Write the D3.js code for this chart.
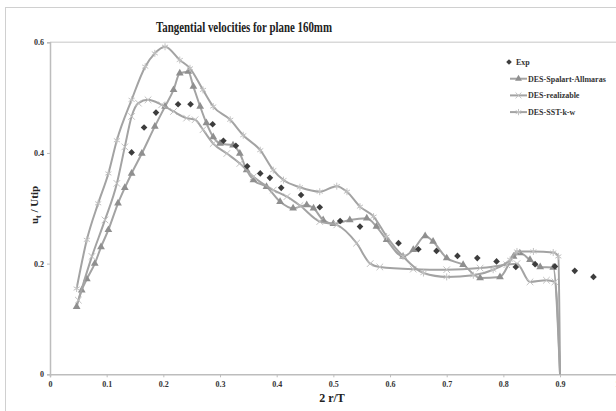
<!DOCTYPE html>
<html>
<head>
<meta charset="utf-8">
<script src="https://cdn.jsdelivr.net/npm/d3@7"></script>
<style>
  body { margin: 0; background: #fff; }
  text { font-family: "Liberation Serif", "Times New Roman", serif; font-weight: bold; }
</style>
</head>
<body>
<div id="chart"></div>
<script>
// values
var xTicks = [0, 0.1, 0.2, 0.3, 0.4, 0.5, 0.6, 0.7, 0.8, 0.9, 1];
var yTicks = [0, 0.2, 0.4, 0.6];

var expX = [0.144, 0.166, 0.187, 0.226, 0.248, 0.287, 0.306, 0.328, 0.348, 0.371, 0.388, 0.408, 0.443, 0.476, 0.512, 0.547, 0.615, 0.65, 0.682, 0.719, 0.754, 0.788, 0.822, 0.856, 0.891, 0.926, 0.959];
var expY = [0.401, 0.446, 0.473, 0.488, 0.488, 0.452, 0.422, 0.413, 0.376, 0.363, 0.355, 0.337, 0.324, 0.302, 0.277, 0.267, 0.237, 0.226, 0.223, 0.214, 0.21, 0.204, 0.194, 0.199, 0.195, 0.187, 0.176];

var saX = [0.047, 0.056, 0.065, 0.079, 0.09, 0.103, 0.12, 0.132, 0.144, 0.162, 0.185, 0.203, 0.218, 0.229, 0.244, 0.253, 0.265, 0.276, 0.288, 0.3, 0.323, 0.335, 0.347, 0.359, 0.382, 0.406, 0.429, 0.453, 0.465, 0.482, 0.5, 0.529, 0.559, 0.576, 0.594, 0.623, 0.641, 0.662, 0.676, 0.7, 0.729, 0.759, 0.794, 0.818, 0.829, 0.847, 0.865, 0.888, 0.9];
var saY = [0.122, 0.152, 0.172, 0.2, 0.23, 0.261, 0.309, 0.337, 0.363, 0.399, 0.448, 0.484, 0.514, 0.544, 0.547, 0.52, 0.484, 0.454, 0.429, 0.417, 0.414, 0.399, 0.369, 0.351, 0.339, 0.312, 0.3, 0.306, 0.3, 0.279, 0.272, 0.279, 0.282, 0.267, 0.243, 0.213, 0.225, 0.25, 0.24, 0.21, 0.198, 0.174, 0.176, 0.213, 0.219, 0.207, 0.194, 0.193, 0];

var realX = [0.05, 0.074, 0.097, 0.118, 0.132, 0.144, 0.156, 0.173, 0.197, 0.218, 0.241, 0.256, 0.27, 0.288, 0.312, 0.335, 0.359, 0.394, 0.418, 0.441, 0.476, 0.506, 0.541, 0.565, 0.582, 0.641, 0.7, 0.759, 0.806, 0.824, 0.847, 0.876, 0.891, 0.9];
var realY = [0.134, 0.213, 0.279, 0.345, 0.411, 0.466, 0.49, 0.496, 0.487, 0.475, 0.463, 0.46, 0.442, 0.417, 0.399, 0.381, 0.357, 0.333, 0.321, 0.305, 0.276, 0.27, 0.237, 0.2, 0.194, 0.19, 0.189, 0.192, 0.198, 0.2, 0.167, 0.17, 0.167, 0];

var sstX = [0.047, 0.065, 0.085, 0.103, 0.118, 0.144, 0.168, 0.185, 0.203, 0.229, 0.247, 0.27, 0.288, 0.318, 0.341, 0.371, 0.394, 0.412, 0.441, 0.476, 0.506, 0.524, 0.547, 0.571, 0.594, 0.623, 0.659, 0.7, 0.747, 0.782, 0.812, 0.824, 0.853, 0.888, 0.897, 0.9];
var sstY = [0.155, 0.243, 0.309, 0.363, 0.423, 0.496, 0.556, 0.58, 0.592, 0.568, 0.553, 0.514, 0.484, 0.46, 0.432, 0.405, 0.369, 0.351, 0.338, 0.33, 0.34, 0.33, 0.303, 0.285, 0.249, 0.213, 0.183, 0.176, 0.179, 0.189, 0.207, 0.222, 0.222, 0.22, 0.213, 0];

var width = 616, height = 411;

var svg = d3.select("#chart").append("svg")
    .attr("width", width)
    .attr("height", height);

// outer chart frame
svg.append("rect")
    .attr("x", 5.5).attr("y", 7.5)
    .attr("width", 640).attr("height", 420)
    .style("fill", "none")
    .style("stroke", "#d0d0d0");

var x = d3.scaleLinear().domain([0, 1]).range([50, 616.7]);
var y = d3.scaleLinear().domain([0, 0.6]).range([374.3, 42.3]);

// plot area top border
svg.append("line")
    .attr("x1", x(0)).attr("x2", width)
    .attr("y1", y(0.6)).attr("y2", y(0.6))
    .style("stroke", "#d9d9d9").style("stroke-width", 1.5);

var xAxis = svg.append("g")
    .attr("transform", "translate(0," + y(0) + ")")
    .call(d3.axisBottom(x).tickValues(xTicks).tickSize(3).tickFormat(d3.format("")));
var yAxis = svg.append("g")
    .attr("transform", "translate(" + x(0) + ",0)")
    .call(d3.axisLeft(y).tickValues(yTicks).tickSize(3).tickFormat(d3.format("")));

[xAxis, yAxis].forEach(function (g) {
    g.select(".domain").style("stroke", "#bdbdbd").style("stroke-width", 1.5);
    g.selectAll(".tick line").style("stroke", "#bdbdbd");
    g.selectAll(".tick text")
        .style("font-family", "'Liberation Serif', serif")
        .style("font-weight", "bold")
        .style("font-size", "8px")
        .style("fill", "#333");
});
xAxis.selectAll(".tick text").attr("dy", "0.9em");

// title and axis titles
svg.append("text")
    .attr("x", 244).attr("y", 32)
    .attr("text-anchor", "middle")
    .attr("textLength", 176)
    .attr("lengthAdjust", "spacingAndGlyphs")
    .style("font-size", "14px")
    .style("fill", "#222")
    .text("Tangential velocities for plane 160mm");

svg.append("text")
    .attr("x", 332).attr("y", 402)
    .attr("text-anchor", "middle")
    .style("font-size", "12px")
    .style("fill", "#222")
    .text("2 r/T");

var yl = svg.append("text")
    .attr("transform", "translate(38,205) rotate(-90)")
    .attr("text-anchor", "middle")
    .style("font-size", "11px")
    .style("fill", "#222");
yl.append("tspan").text("u");
yl.append("tspan").attr("dy", 3).style("font-size", "8px").text("t");
yl.append("tspan").attr("dy", -3).text(" / Utip");

function pts(xs, ys) {
    return xs.map(function (d, i) { return [d, ys[i]]; });
}

var line = d3.line()
    .x(function (d) { return x(d[0]); })
    .y(function (d) { return y(d[1]); })
    .curve(d3.curveMonotoneX);

var series = [
    { name: "DES-Spalart-Allmaras", data: pts(saX, saY), symbol: d3.symbolTriangle, size: 26, fill: "#8f8f8f", stroke: "none" },
    { name: "DES-realizable", data: pts(realX, realY), symbol: d3.symbolTimes, size: 30, fill: "none", stroke: "#c2c2c2" },
    { name: "DES-SST-k-w", data: pts(sstX, sstY), symbol: d3.symbolAsterisk, size: 34, fill: "none", stroke: "#c2c2c2" }
];

series.forEach(function (s) {
    svg.append("path")
        .datum(s.data)
        .attr("d", line)
        .style("fill", "none")
        .style("stroke", "#a3a3a3")
        .style("stroke-width", 2);

    svg.selectAll(null)
        .data(s.data.slice(0, -1))
        .enter()
        .append("path")
        .attr("transform", function (d) { return "translate(" + x(d[0]) + "," + y(d[1]) + ")"; })
        .attr("d", d3.symbol().type(s.symbol).size(s.size))
        .style("fill", s.fill)
        .style("stroke", s.stroke)
        .style("stroke-width", 1);
});

// experimental points (square turned 45deg)
svg.selectAll(".exp")
    .data(pts(expX, expY))
    .enter()
    .append("path")
    .attr("class", "exp")
    .attr("transform", function (d) { return "translate(" + x(d[0]) + "," + y(d[1]) + ") rotate(45)"; })
    .attr("d", d3.symbol().type(d3.symbolSquare).size(22))
    .style("fill", "#3d3d3d");

// legend
var legend = svg.append("g").attr("transform", "translate(509,62)");
var rows = [{ name: "Exp" }].concat(series);
rows.forEach(function (s, i) {
    var g = legend.append("g").attr("transform", "translate(0," + (i * 16.7) + ")");
    if (i === 0) {
        g.append("path")
            .attr("transform", "translate(0,0) rotate(45)")
            .attr("d", d3.symbol().type(d3.symbolSquare).size(16))
            .style("fill", "#3d3d3d");
        g.append("text").attr("x", 7).attr("y", 3).style("font-size", "8px").style("fill", "#333").text(s.name);
    } else {
        g.append("line").attr("x1", 1).attr("x2", 18).attr("y1", 0).attr("y2", 0)
            .style("stroke", "#a3a3a3").style("stroke-width", 2);
        g.append("path")
            .attr("transform", "translate(9.5,0)")
            .attr("d", d3.symbol().type(s.symbol).size(s.size * 0.8))
            .style("fill", s.fill)
            .style("stroke", s.stroke);
        g.append("text").attr("x", 19).attr("y", 3).style("font-size", "8px").style("fill", "#333").text(s.name);
    }
});
</script>
</body>
</html>
